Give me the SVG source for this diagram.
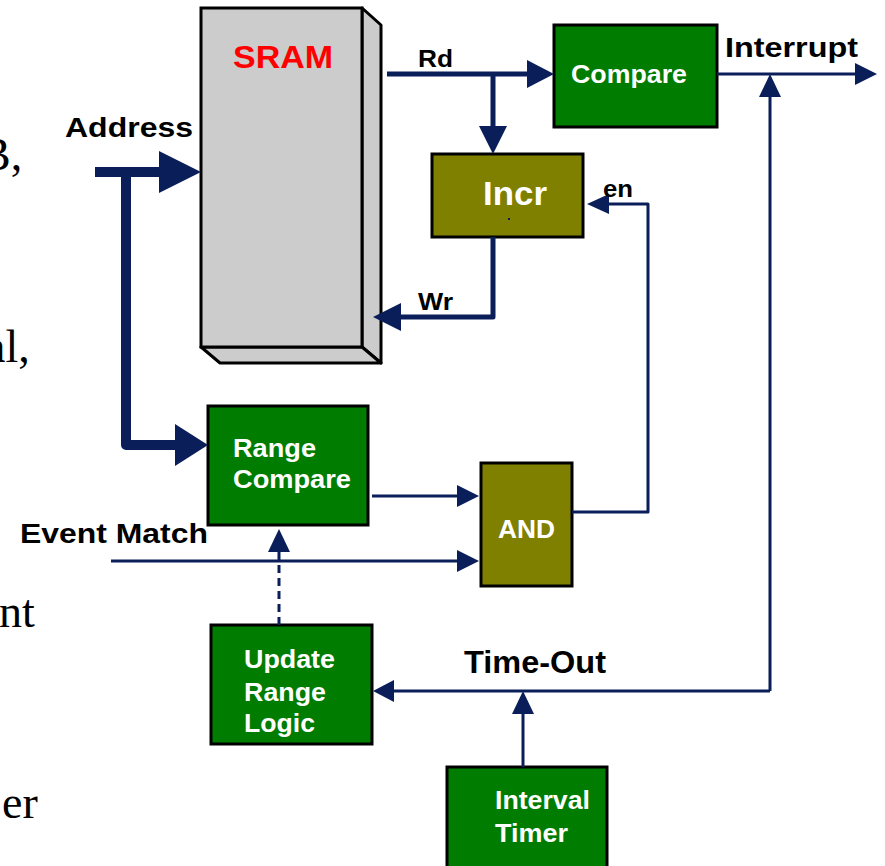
<svg xmlns="http://www.w3.org/2000/svg" width="885" height="866" viewBox="0 0 885 866">
<style>
.box{stroke:#000;stroke-width:3}
.green{fill:#007c00}
.olive{fill:#808000}
.lbl{font-family:"Liberation Sans",Arial,sans-serif;font-weight:bold;fill:#000}
.wt{font-family:"Liberation Sans",Arial,sans-serif;font-weight:bold;fill:#fff}
.ser{font-family:"Liberation Serif","Times New Roman",serif;font-size:46px;fill:#000}
.ln{fill:none;stroke:#0a1e5a;stroke-linejoin:round}
.ah{fill:#0a1e5a}
</style>
<rect width="885" height="866" fill="#fff"/>
<g id="margin-text">
<text class="ser" x="-20" y="170">B,</text>
<text class="ser" x="-15" y="362">al,</text>
<text class="ser" x="-1" y="627">nt</text>
<text class="ser" x="2" y="818">er</text>
</g>
<g id="sram">
<polygon points="362,8 381,25 381,363 362,347" fill="#cccccc" class="box" stroke-linejoin="round"/>
<polygon points="201,347 362,347 381,363 220,363" fill="#cccccc" class="box" stroke-linejoin="round"/>
<rect x="201" y="8" width="161" height="339" fill="#cccccc" class="box"/>
<text x="233" y="68" font-size="32" textLength="100" lengthAdjust="spacingAndGlyphs" style="font-family:'Liberation Sans',Arial,sans-serif;font-weight:bold;fill:#ff0000">SRAM</text>
</g>
<g id="compare">
<rect x="554" y="25" width="163" height="102" class="box green"/>
<text class="wt" x="571" y="83" font-size="25" textLength="116" lengthAdjust="spacingAndGlyphs">Compare</text>
</g>
<g id="incr">
<rect x="432" y="154" width="151" height="83" class="box olive"/>
<text class="wt" x="483" y="205" font-size="34" textLength="64" lengthAdjust="spacingAndGlyphs">Incr</text>
<rect x="508" y="218" width="2" height="2" fill="#0a1e5a"/>
</g>
<g id="range-compare">
<rect x="208" y="406" width="160" height="119" class="box green"/>
<text class="wt" x="233" y="457" font-size="26" textLength="83" lengthAdjust="spacingAndGlyphs">Range</text>
<text class="wt" x="233" y="488" font-size="26" textLength="118" lengthAdjust="spacingAndGlyphs">Compare</text>
</g>
<g id="and">
<rect x="481" y="463" width="91" height="123" class="box olive"/>
<text class="wt" x="498" y="538" font-size="25" textLength="57" lengthAdjust="spacingAndGlyphs">AND</text>
</g>
<g id="update-range-logic">
<rect x="211" y="625" width="161" height="119" class="box green"/>
<text class="wt" x="244" y="668" font-size="25" textLength="91" lengthAdjust="spacingAndGlyphs">Update</text>
<text class="wt" x="244" y="701" font-size="25" textLength="82" lengthAdjust="spacingAndGlyphs">Range</text>
<text class="wt" x="244" y="732" font-size="25" textLength="71" lengthAdjust="spacingAndGlyphs">Logic</text>
</g>
<g id="interval-timer">
<rect x="447" y="767" width="160" height="110" class="box green"/>
<text class="wt" x="495" y="809" font-size="25" textLength="95" lengthAdjust="spacingAndGlyphs">Interval</text>
<text class="wt" x="495" y="842" font-size="25" textLength="73" lengthAdjust="spacingAndGlyphs">Timer</text>
</g>
<g id="connectors">
<path class="ln" d="M95,172 H160" stroke-width="10"/>
<polygon class="ah" points="159,151 201,172 159,193"/>
<path class="ln" d="M126,172 V445 H176" stroke-width="10"/>
<polygon class="ah" points="175,424 208,445 175,466"/>
<path class="ln" d="M387,74 H528" stroke-width="5"/>
<polygon class="ah" points="527,60 554,74 527,88"/>
<path class="ln" d="M493,74 V127" stroke-width="5"/>
<polygon class="ah" points="479,126 493,154 507,126"/>
<path class="ln" d="M493,237 V317 H400" stroke-width="5"/>
<polygon class="ah" points="401,303 373,317 401,331"/>
<path class="ln" d="M717,74 H856" stroke-width="3"/>
<polygon class="ah" points="855,63 877,74 855,85"/>
<path class="ln" d="M523,767 V713" stroke-width="3"/>
<polygon class="ah" points="512,714 523,691 534,714"/>
<path class="ln" d="M770,691 H393" stroke-width="3"/>
<polygon class="ah" points="394,680 373,691 394,702"/>
<path class="ln" d="M770,691 V96" stroke-width="3"/>
<polygon class="ah" points="759,97 770,74 781,97"/>
<path class="ln" d="M372,496 H458" stroke-width="3"/>
<polygon class="ah" points="457,485 479,496 457,507"/>
<path class="ln" d="M111,561 H458" stroke-width="3"/>
<polygon class="ah" points="457,550 479,561 457,572"/>
<path class="ln" d="M572,512 H648 V204 H608" stroke-width="3"/>
<polygon class="ah" points="609,194 587,204 609,214"/>
<path class="ln" d="M279,625 V552" stroke-width="3" stroke-dasharray="8,5"/>
<polygon class="ah" points="268,552 279,529 290,552"/>
</g>
<g id="labels">
<text class="lbl" x="65" y="137" font-size="28" textLength="128" lengthAdjust="spacingAndGlyphs">Address</text>
<text class="lbl" x="418" y="67" font-size="24" textLength="35" lengthAdjust="spacingAndGlyphs">Rd</text>
<text class="lbl" x="418" y="310" font-size="24" textLength="35" lengthAdjust="spacingAndGlyphs">Wr</text>
<text class="lbl" x="725" y="57" font-size="28" textLength="133" lengthAdjust="spacingAndGlyphs">Interrupt</text>
<text class="lbl" x="603" y="197" font-size="24" textLength="30" lengthAdjust="spacingAndGlyphs">en</text>
<text class="lbl" x="20" y="543" font-size="28" textLength="188" lengthAdjust="spacingAndGlyphs">Event Match</text>
<text class="lbl" x="464" y="673" font-size="31" textLength="142" lengthAdjust="spacingAndGlyphs">Time-Out</text>
</g>
</svg>
